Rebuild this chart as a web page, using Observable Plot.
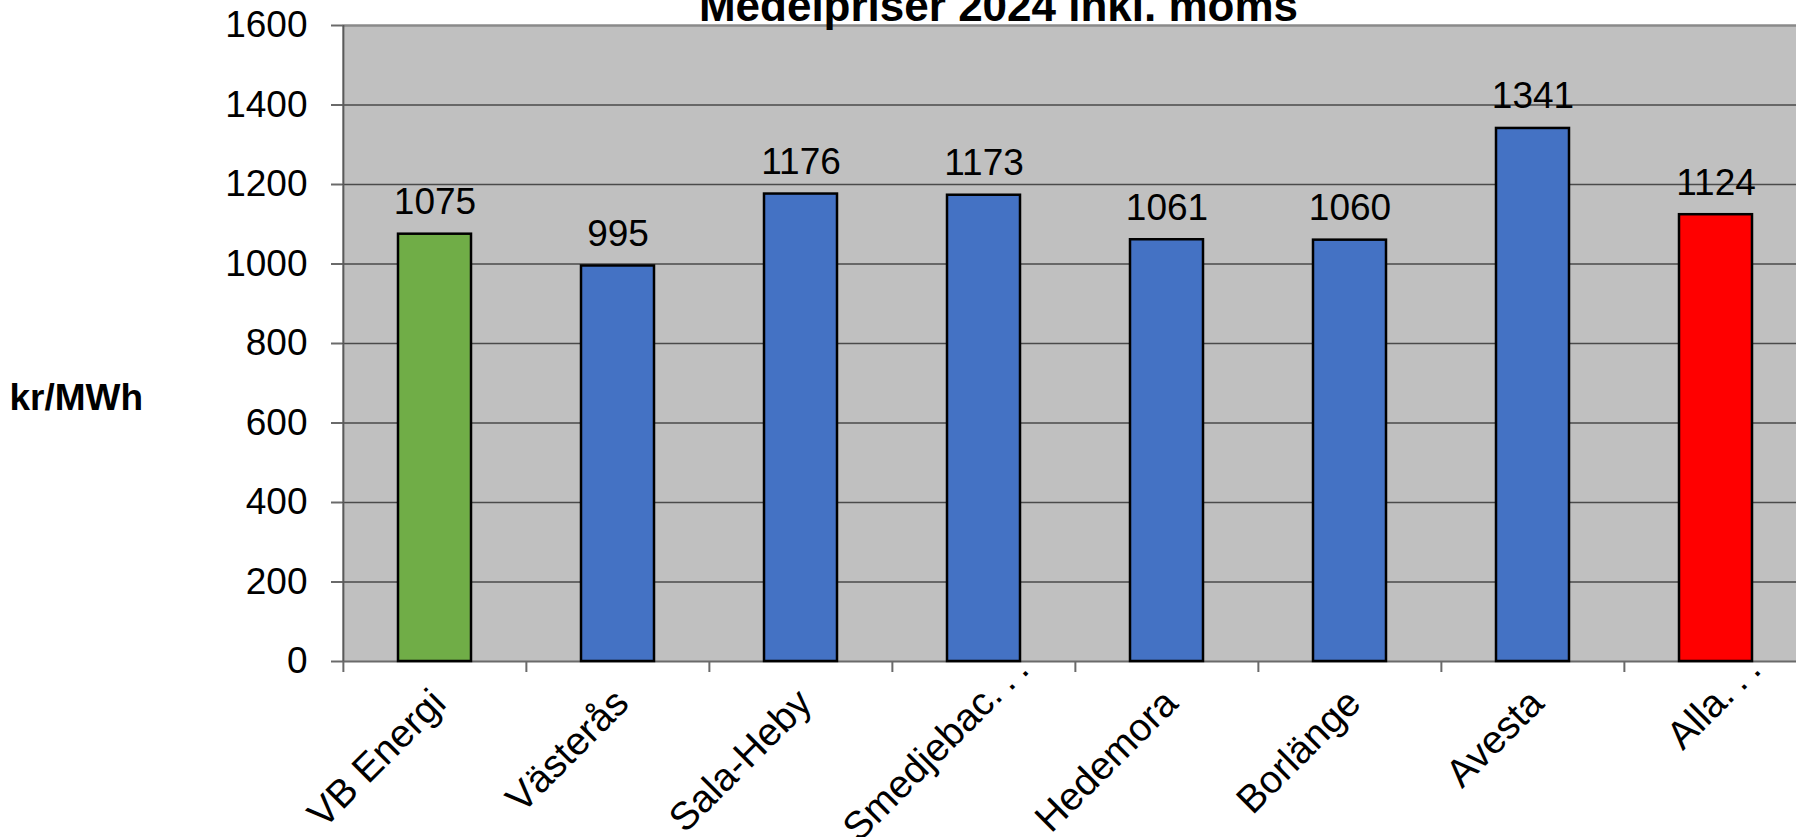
<!DOCTYPE html>
<html>
<head>
<meta charset="utf-8">
<script src="https://cdn.jsdelivr.net/npm/d3@7"></script>
<script src="https://cdn.jsdelivr.net/npm/@observablehq/plot@0.6"></script>
<style>
  html, body { margin: 0; padding: 0; background: white; overflow: hidden; }
</style>
</head>
<body>
<div id="chart"></div>
<script>
const title = "Medelpriser 2024 inkl. moms";
const yLabel = "kr/MWh";
const categories = ["VB Energi", "Västerås", "Sala-Heby", "Smedjebac…", "Hedemora", "Borlänge", "Avesta", "Alla…"];
const values = [1075, 995, 1176, 1173, 1061, 1060, 1341, 1124];
const barColors = ["#70AD47", "#4472C4", "#4472C4", "#4472C4", "#4472C4", "#4472C4", "#4472C4", "#FF0000"];
const yTicks = [0, 200, 400, 600, 800, 1000, 1200, 1400, 1600];

(function () {
const data = categories.map((name, i) => ({name, value: values[i], color: barColors[i]}));
const truncated = categories.filter(d => d.endsWith("…"));

const W = 1796, H = 837;
const pLeft = 342, pRight = 1808, pTop = 25, pBottom = 661;
const step = (pRight - pLeft) / categories.length;
const pxPerUnit = (pBottom - pTop) / 1600;
const labelPad = 35, labelDx = 4, labelSize = 39;

const chart = Plot.plot({
  width: W,
  height: H,
  marginLeft: pLeft,
  marginRight: 0,
  marginTop: pTop,
  marginBottom: H - pBottom,
  style: {background: "white", fontFamily: "'Liberation Sans', Arial, sans-serif", overflow: "hidden"},
  x: {domain: categories, range: [pLeft, pRight], paddingInner: 0.6, paddingOuter: 0.3, label: null},
  y: {domain: [0, 1600], label: null},
  marks: [
    Plot.frame({fill: "#C0C0C0", stroke: null}),
    Plot.ruleY(yTicks.filter(d => d > 0 && d < 1600), {stroke: "#4a4a4a", strokeWidth: 1.5}),
    Plot.ruleY([1600], {stroke: "#8a8a8a", strokeWidth: 2.5}),
    Plot.ruleY([0], {stroke: "#6a6a6a", strokeWidth: 2}),
    Plot.ruleX(categories, {x: d => d, dx: -step / 2, y1: -11 / pxPerUnit, y2: 0, stroke: "#6a6a6a", strokeWidth: 2}),
    Plot.ruleX([categories[0]], {x: d => d, dx: -step / 2, y1: 0, y2: 1600, stroke: "#5a5a5a", strokeWidth: 2}),
    Plot.barY(data, {x: "name", y: "value", fill: d => d.color, stroke: "black", strokeWidth: 2.5}),
    Plot.text(data, {x: "name", y: "value", text: d => String(d.value), dy: -20, lineAnchor: "bottom", fontSize: 37, fill: "black"}),
    Plot.axisY({ticks: yTicks, tickSize: 11, tickPadding: 24, fontSize: 37, stroke: "#6a6a6a", strokeWidth: 2, label: null, tickFormat: d => String(d)}),
    Plot.axisX({tickRotate: -45, tickSize: 0, tickPadding: labelPad, dx: labelDx, fontSize: labelSize, label: null, fill: "black",
                tickFormat: d => d.replace("…", "")}),
    Plot.text(truncated, {x: d => d, frameAnchor: "bottom", dx: labelDx, dy: labelPad, rotate: -45, textAnchor: "start", lineAnchor: "middle",
                text: () => ".\u2009.\u2009.", fontSize: labelSize, fill: "black"}),
    Plot.text([yLabel], {frameAnchor: "left", dx: -333, dy: 55, textAnchor: "start", fontSize: 37, fontWeight: "bold", fill: "black"}),
    Plot.text([title], {frameAnchor: "top", dx: 998 - (pLeft + W) / 2, dy: -5, lineAnchor: "bottom", fontSize: 44, fontWeight: "bold", fill: "black"})
  ]
});
document.getElementById("chart").appendChild(chart);
})();
</script>
</body>
</html>
